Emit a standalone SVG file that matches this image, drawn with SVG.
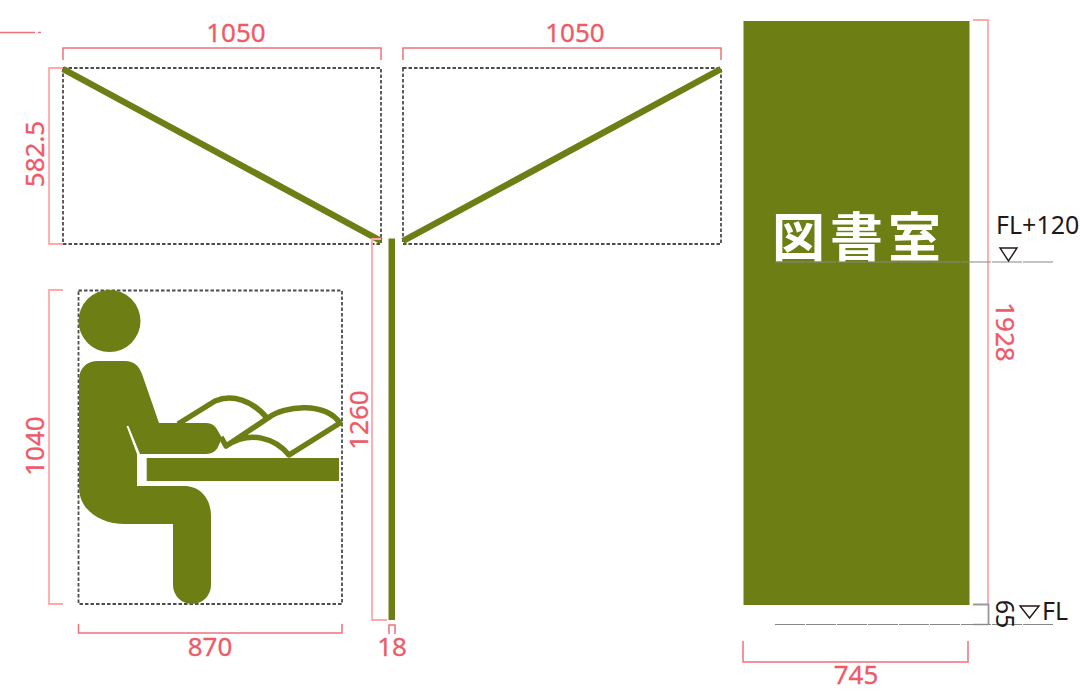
<svg xmlns="http://www.w3.org/2000/svg" width="1080" height="697" viewBox="0 0 1080 697">
<style>
.olive{fill:#6d7f14}
.beam{fill:none;stroke:#6d7f14;stroke-width:6.500}
.book{fill:none;stroke:#6d7f14;stroke-width:5.500;stroke-linejoin:round}
.dot{fill:none;stroke:#4d4d4d;stroke-width:1.800;stroke-dasharray:3.500 2}
.dim{fill:none;stroke:#f0707c;stroke-width:1.500}
.dimL{fill:none;stroke:#ffa8a8;stroke-width:1.800}
.lvl{fill:none;stroke:#888;stroke-width:1.200;stroke-dasharray:30 1}
.t{font-family:"Noto Sans","Open Sans",sans-serif;font-size:26px;fill:#ee5a68;stroke:#ee5a68;stroke-width:.3}
.k{font-family:"Noto Sans","Open Sans",sans-serif;font-size:25px;fill:#231815}
</style>
<rect width="1080" height="697" fill="#fff"/>
<g id="canopy-left">
<rect class="dot" x="63" y="68" width="318" height="176"/>
<path class="beam" d="M63 69 L381 241"/>
</g>
<g id="canopy-right">
<rect class="dot" x="403" y="68" width="318" height="176"/>
<path class="beam" d="M403 241 L721 69"/>
</g>
<g id="pole"><rect class="olive" x="388.500" y="238.500" width="6.500" height="381.500"/></g>
<g id="person">
<rect class="dot" x="78.500" y="290.500" width="263.500" height="313.500"/>
<circle class="olive" cx="109.500" cy="321" r="31"/>
<path class="olive" d="M79 380 C79 368 87 361 98 361 H125 C134 361 139 366 142 374 L159 423 H206 C213 423 216 427 218 431 L222 438 L218 447 C216 451 212 454 206 454 H140 L128.500 426 L126.500 426 L137 454 V486 H184 C200 486 211 498 211 516 V585 A19 19 0 0 1 173 585 V524 H125 C100 524 79 510 79 487 Z"/>
<path class="book" d="M178 424 L215 401 C232 394 252 400 267 418"/>
<path class="book" d="M221 437 L226 446 L268 418 C285 405 325 402 340 423 L289 455 C275 438 250 430 226 446"/>
<rect class="olive" x="146.700" y="458" width="192.300" height="23"/>
</g>
<g id="sign">
<rect class="olive" x="743.500" y="21" width="226" height="584"/>
<text x="772" y="257" font-family="'Noto Sans CJK JP',sans-serif" font-size="53" font-weight="700" fill="#fff" letter-spacing="5">図書室</text>
</g>
<g id="connectors">
<path class="dim" d="M0 32.500 H35 M38 32.500 H41"/>
<path class="dim" d="M63 60 V48 H381 V60"/>
<path class="dim" d="M403 60 V48 H721 V60"/>
<path class="dimL" d="M63 68 H49 V244 H63"/>
<path class="dimL" d="M63 290 H49 V604 H63"/>
<path class="dimL" d="M381 239 H372 V620 H387"/>
<path class="dim" d="M78.500 624 V633 H342 V624"/>
<path class="dim" d="M389 634 V625 H395 V634"/>
<path class="dimL" d="M973 20 H988 V604"/>
<path fill="none" stroke="#999" stroke-width="1.800" d="M973 604.500 H988.500 V624"/>
<path fill="none" stroke="#231815" stroke-width="1.200" d="M973 624.500 H988"/>
<path class="dim" d="M743 641 V662 H968 V641"/>
<path class="lvl" d="M775 262 H1053"/>
<path class="lvl" d="M775 624.500 H1053"/>
<path fill="none" stroke="#231815" stroke-width="1.400" d="M1000 248 H1017 L1008.500 261 Z"/>
<path fill="none" stroke="#231815" stroke-width="1.400" d="M1020 606 H1039 L1029.500 618 Z"/>
</g>
<g id="labels">
<text class="t" x="236" y="42" text-anchor="middle">1050</text>
<text class="t" x="575" y="42" text-anchor="middle">1050</text>
<text class="t" text-anchor="middle" transform="translate(44 154) rotate(-90)">582.5</text>
<text class="t" text-anchor="middle" transform="translate(44 446) rotate(-90)">1040</text>
<text class="t" text-anchor="middle" transform="translate(368 420) rotate(-90)">1260</text>
<text class="t" text-anchor="middle" transform="translate(996 332) rotate(90)">1928</text>
<text class="t" x="210" y="656" text-anchor="middle">870</text>
<text class="t" x="392" y="656" text-anchor="middle">18</text>
<text class="t" x="856" y="684" text-anchor="middle">745</text>
<text class="k" x="996" y="234">FL+120</text>
<text class="k" x="1042" y="620">FL</text>
<text class="k" text-anchor="middle" transform="translate(996 614) rotate(90)">65</text>
</g>
</svg>
